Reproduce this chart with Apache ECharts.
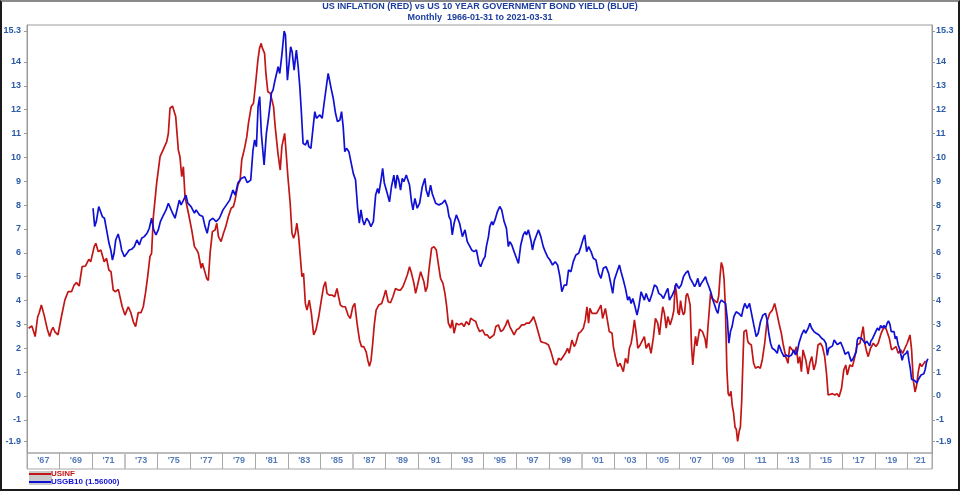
<!DOCTYPE html>
<html><head><meta charset="utf-8">
<script src="https://cdn.jsdelivr.net/npm/echarts@6/dist/echarts.min.js"></script>
<style>
html,body{margin:0;padding:0;background:#fff;}
#c{position:absolute;left:0;top:0;width:960px;height:492px;}
#frame{position:absolute;left:0;top:0;width:956px;height:487px;border:2px solid #1a1a1a;border-top:2px solid #8a8a8a;pointer-events:none;}
</style></head>
<body><div id="c"></div><div id="frame"></div>
<script>
// ---- data (decimal year, value) ----
const usinf = [
[1966.1,2.84],[1966.3,2.93],[1966.5,2.49],[1966.65,3.3],[1966.75,3.49],[1966.88,3.81],[1967.05,3.39],[1967.15,3.32],[1967.25,2.79],[1967.39,2.49],[1967.5,2.75],[1967.6,2.88],[1967.7,2.7],[1967.9,2.56],
[1968.11,3.32],[1968.32,4.02],[1968.52,4.37],[1968.73,4.37],[1968.89,4.65],[1969.03,4.75],[1969.2,4.61],[1969.38,5.42],[1969.59,5.45],[1969.79,5.73],[1969.91,5.63],
[1970.12,6.26],[1970.22,6.4],[1970.37,6.05],[1970.53,6.12],[1970.73,5.63],[1970.88,5.77],[1971.02,5.28],[1971.15,5.21],[1971.29,4.44],[1971.43,4.37],[1971.6,4.47],[1971.7,4.44],[1971.84,3.74],
[1972.01,3.39],[1972.21,3.74],[1972.37,3.49],[1972.52,3.11],[1972.66,2.91],[1972.82,3.49],[1972.99,3.49],[1973.13,3.74],[1973.27,4.33],[1973.4,5.0],[1973.54,5.84],[1973.64,5.98],[1973.75,7.52],[1973.95,8.91],
[1974.16,10.03],[1974.36,10.34],[1974.57,10.66],[1974.67,11.01],[1974.77,12.06],[1974.92,12.15],[1975.04,12.15],[1975.12,11.71],[1975.28,10.31],[1975.38,10.03],[1975.49,9.19],[1975.59,9.61],[1975.69,8.35],[1975.9,7.66],
[1976.1,6.96],[1976.27,6.26],[1976.41,6.12],[1976.51,5.98],[1976.68,5.35],[1976.76,5.56],[1976.88,5.49],[1977.02,4.93],[1977.12,4.84],[1977.23,6.0],[1977.37,6.89],[1977.53,6.96],[1977.64,7.24],[1977.74,6.68],[1977.9,6.47],
[1978.05,6.82],[1978.19,7.1],[1978.35,7.52],[1978.52,7.87],[1978.66,7.94],[1978.76,8.21],[1978.93,8.84],[1979.07,9.05],[1979.17,9.89],[1979.34,10.38],[1979.48,10.87],[1979.58,11.43],[1979.75,12.13],[1979.89,12.27],
[1980.03,13.17],[1980.16,14.08],[1980.26,14.57],[1980.36,14.78],[1980.44,14.57],[1980.57,14.36],[1980.65,13.52],[1980.77,12.75],[1980.92,12.69],[1981.02,12.62],[1981.12,12.13],[1981.22,11.29],[1981.39,10.17],[1981.53,9.47],[1981.63,10.45],[1981.8,11.01],[1981.88,10.31],
[1982.0,9.19],[1982.14,8.08],[1982.25,6.82],[1982.35,6.61],[1982.45,6.82],[1982.55,7.24],[1982.66,6.68],[1982.76,5.84],[1982.86,5.0],[1982.96,5.14],[1983.07,3.88],[1983.17,3.6],[1983.31,4.02],[1983.44,3.46],[1983.58,2.56],[1983.72,2.77],[1983.89,3.32],
[1984.05,4.02],[1984.19,4.58],[1984.3,4.79],[1984.4,4.3],[1984.54,4.23],[1984.7,4.23],[1984.87,4.16],[1985.01,4.51],[1985.11,4.16],[1985.22,3.81],[1985.36,3.74],[1985.52,3.74],[1985.69,3.39],[1985.83,3.25],[1985.98,3.74],
[1986.1,3.88],[1986.24,3.05],[1986.39,2.35],[1986.51,2.07],[1986.65,2.07],[1986.8,1.85],[1986.9,1.5],[1987.0,1.25],[1987.1,1.5],[1987.2,2.2],[1987.3,3.0],[1987.41,3.6],[1987.57,3.81],[1987.75,3.88],[1987.9,4.2],
[1988.0,4.44],[1988.15,3.95],[1988.29,3.91],[1988.44,4.16],[1988.6,4.51],[1988.76,4.44],[1988.91,4.44],[1989.05,4.58],[1989.17,4.79],[1989.32,5.07],[1989.46,5.42],[1989.58,5.14],[1989.73,4.72],[1989.83,4.3],[1989.93,4.58],
[1990.03,4.65],[1990.14,5.21],[1990.24,5.28],[1990.34,4.79],[1990.44,4.37],[1990.55,4.58],[1990.65,5.28],[1990.81,6.19],[1990.96,6.26],[1991.1,6.12],[1991.22,5.56],[1991.36,4.93],[1991.51,4.72],[1991.63,4.3],[1991.74,3.74],[1991.84,3.05],[1991.98,2.84],
[1992.08,3.19],[1992.19,2.63],[1992.33,3.05],[1992.49,2.98],[1992.66,3.05],[1992.8,2.91],[1992.94,3.12],[1993.11,2.98],[1993.21,3.26],[1993.35,3.19],[1993.52,3.12],[1993.62,2.91],[1993.76,2.7],[1993.93,2.77],
[1994.09,2.56],[1994.23,2.56],[1994.38,2.42],[1994.5,2.35],[1994.64,2.56],[1994.75,2.91],[1994.91,2.98],[1995.05,2.7],[1995.2,2.77],[1995.36,2.98],[1995.48,3.19],[1995.61,2.91],[1995.77,2.7],[1995.87,2.56],
[1996.02,2.77],[1996.18,2.84],[1996.34,2.98],[1996.49,2.98],[1996.63,3.05],[1996.8,3.05],[1996.96,3.19],[1997.06,3.33],[1997.2,3.05],[1997.37,2.63],[1997.51,2.28],[1997.66,2.24],[1997.82,2.21],[1997.98,2.14],
[1998.13,1.86],[1998.23,1.93],[1998.33,1.37],[1998.47,1.3],[1998.6,1.58],[1998.74,1.51],[1998.84,1.44],[1999.01,1.79],[1999.15,2.0],[1999.25,1.79],[1999.42,2.35],[1999.56,2.07],[1999.66,2.21],[1999.83,2.63],[1999.97,2.7],
[2000.12,2.84],[2000.24,3.19],[2000.34,3.74],[2000.44,3.05],[2000.52,3.67],[2000.65,3.46],[2000.79,3.46],[2000.93,3.46],[2001.1,3.67],[2001.2,3.81],[2001.3,3.25],[2001.47,3.67],[2001.61,3.11],[2001.71,2.7],[2001.88,2.63],[2001.96,2.07],
[2002.08,1.65],[2002.23,1.23],[2002.37,1.37],[2002.49,1.3],[2002.57,1.02],[2002.7,1.58],[2002.84,1.37],[2002.94,2.0],[2003.05,2.21],[2003.15,2.63],[2003.25,3.19],[2003.35,2.7],[2003.46,2.0],[2003.6,2.14],[2003.72,2.21],[2003.86,2.49],[2003.97,2.0],
[2004.13,2.21],[2004.27,1.79],[2004.42,2.49],[2004.54,3.25],[2004.68,3.05],[2004.79,2.56],[2004.89,3.19],[2004.99,3.74],[2005.09,3.46],[2005.2,2.84],[2005.3,3.33],[2005.44,2.98],[2005.58,3.3],[2005.67,3.6],[2005.75,4.65],[2005.83,4.3],[2005.92,3.5],
[2006.0,3.4],[2006.08,4.0],[2006.17,3.6],[2006.25,3.4],[2006.33,3.5],[2006.42,4.2],[2006.5,4.3],[2006.58,4.1],[2006.67,3.8],[2006.75,2.1],[2006.83,1.3],[2006.92,2.0],[2007.0,2.5],[2007.08,2.1],[2007.25,2.8],[2007.42,2.7],[2007.58,2.4],[2007.67,2.0],[2007.75,2.8],[2007.83,3.5],[2007.92,4.3],
[2008.0,4.1],[2008.17,4.0],[2008.33,3.9],[2008.42,4.2],[2008.5,5.0],[2008.58,5.6],[2008.67,5.4],[2008.75,4.9],[2008.83,3.7],[2008.92,1.1],[2009.0,0.1],[2009.08,0.0],[2009.17,0.2],[2009.25,-0.4],[2009.33,-0.7],[2009.42,-1.3],[2009.5,-1.4],[2009.58,-1.9],[2009.67,-1.5],[2009.75,-1.3],[2009.83,-0.2],[2009.92,1.8],[2009.97,2.7],
[2010.11,2.77],[2010.2,2.3],[2010.27,2.21],[2010.42,2.14],[2010.56,1.37],[2010.68,1.16],[2010.83,1.23],[2010.97,1.16],[2011.09,1.51],[2011.24,2.21],[2011.38,3.11],[2011.54,3.46],[2011.71,3.6],[2011.85,3.88],[2011.99,3.46],
[2012.12,3.04],[2012.26,2.63],[2012.36,2.21],[2012.53,1.65],[2012.67,1.37],[2012.77,2.07],[2012.94,1.93],[2013.08,1.79],[2013.18,2.07],[2013.29,1.37],[2013.39,1.65],[2013.49,1.02],[2013.59,1.93],[2013.76,1.51],[2013.9,0.92],
[2014.0,1.37],[2014.13,1.65],[2014.25,1.09],[2014.37,1.37],[2014.51,2.14],[2014.66,2.21],[2014.78,2.07],[2014.92,1.65],[2015.03,0.95],[2015.13,0.04],[2015.23,-0.03],[2015.4,0.1],[2015.54,0.04],[2015.68,0.1],[2015.8,-0.03],[2015.95,0.31],
[2016.09,1.09],[2016.21,1.3],[2016.3,0.88],[2016.46,1.3],[2016.62,1.23],[2016.77,1.65],[2016.91,2.14],[2017.08,2.21],[2017.18,2.56],[2017.28,2.91],[2017.38,2.21],[2017.49,1.86],[2017.59,1.65],[2017.73,2.0],[2017.9,2.21],
[2018.06,2.07],[2018.2,2.21],[2018.35,2.56],[2018.47,2.77],[2018.61,2.91],[2018.71,2.77],[2018.88,2.42],[2019.02,1.93],[2019.12,1.86],[2019.29,2.07],[2019.43,1.79],[2019.58,1.93],[2019.7,1.79],[2019.84,2.0],[2019.98,2.21],
[2020.15,2.56],[2020.25,1.93],[2020.35,0.67],[2020.46,0.17],[2020.56,0.45],[2020.66,1.02],[2020.76,1.37],[2020.87,1.23],[2020.97,1.3],[2021.07,1.44],[2021.17,1.44]
];
const usgb10 = [
[1970.05,7.87],[1970.15,7.1],[1970.25,7.31],[1970.4,7.94],[1970.52,7.87],[1970.62,7.52],[1970.75,7.45],[1970.88,6.96],[1971.03,6.4],[1971.14,6.12],[1971.24,5.7],[1971.34,5.98],[1971.44,6.54],[1971.59,6.79],[1971.71,6.47],[1971.8,6.12],
[1971.97,5.84],[1972.13,5.98],[1972.27,6.12],[1972.41,6.15],[1972.58,6.26],[1972.74,6.54],[1972.89,6.33],[1973.03,6.61],[1973.19,6.68],[1973.36,6.82],[1973.5,7.03],[1973.64,7.45],[1973.77,6.96],[1973.91,6.75],
[1974.05,6.96],[1974.18,7.31],[1974.32,7.52],[1974.42,7.59],[1974.53,7.8],[1974.67,8.08],[1974.79,8.01],[1974.93,7.66],[1975.08,7.45],[1975.2,7.8],[1975.34,8.21],[1975.45,8.01],[1975.55,8.15],[1975.75,8.42],[1975.86,8.08],
[1976.06,7.94],[1976.27,7.66],[1976.37,7.8],[1976.58,7.59],[1976.78,7.52],[1976.92,7.1],[1977.05,6.82],[1977.2,7.35],[1977.4,7.45],[1977.6,7.31],[1977.8,7.45],[1978.02,7.8],[1978.22,8.0],[1978.43,8.21],[1978.63,8.63],[1978.77,8.42],[1978.94,8.94],
[1979.14,9.12],[1979.35,9.19],[1979.51,8.94],[1979.72,9.05],[1979.86,10.31],[1979.96,10.73],[1980.07,10.45],[1980.17,12.13],[1980.27,12.55],[1980.37,11.01],[1980.54,9.68],[1980.68,11.01],[1980.82,11.71],[1980.99,12.69],
[1981.09,12.83],[1981.19,13.17],[1981.29,13.1],[1981.4,13.8],[1981.5,13.52],[1981.64,14.36],[1981.77,15.3],[1981.85,15.13],[1981.97,13.24],[1982.05,13.8],[1982.17,14.64],[1982.26,14.43],[1982.38,13.66],[1982.52,14.5],[1982.63,13.8],[1982.73,12.96],[1982.83,11.85],[1982.93,10.59],
[1983.08,10.52],[1983.2,10.73],[1983.28,10.45],[1983.41,10.38],[1983.55,11.29],[1983.65,11.92],[1983.75,11.64],[1983.86,11.57],[1983.96,11.78],[1984.1,11.64],[1984.22,12.27],[1984.37,13.03],[1984.47,13.52],[1984.57,13.45],[1984.67,12.83],[1984.78,12.48],[1984.92,11.85],
[1985.04,11.5],[1985.19,11.57],[1985.29,11.92],[1985.39,11.29],[1985.49,10.24],[1985.6,10.38],[1985.74,10.24],[1985.86,10.24],[1986.01,9.33],[1986.15,9.05],[1986.27,7.93],[1986.38,7.24],[1986.48,7.8],[1986.58,7.38],[1986.68,7.17],[1986.83,7.45],[1986.97,7.31],
[1987.09,7.1],[1987.24,7.31],[1987.38,8.42],[1987.5,8.7],[1987.58,8.49],[1987.71,9.05],[1987.81,9.54],[1987.91,8.94],[1988.0,8.9],[1988.09,8.5],[1988.23,8.14],[1988.35,8.77],[1988.5,9.26],[1988.6,8.7],[1988.7,9.26],[1988.8,9.05],[1988.91,8.63],
[1989.01,9.12],[1989.11,8.98],[1989.26,9.26],[1989.38,9.19],[1989.46,8.84],[1989.58,8.14],[1989.67,7.8],[1989.79,8.28],[1989.93,7.87],[1990.08,8.08],[1990.24,8.77],[1990.4,9.12],[1990.48,8.63],[1990.61,8.35],[1990.75,8.84],[1990.85,8.49],
[1991.06,8.08],[1991.26,8.01],[1991.47,8.08],[1991.63,8.21],[1991.78,7.94],[1991.88,7.52],[1991.98,7.38],[1992.08,6.75],[1992.19,7.24],[1992.33,7.59],[1992.45,7.52],[1992.53,7.24],[1992.7,6.68],[1992.86,6.96],
[1993.0,6.47],[1993.11,6.4],[1993.27,6.12],[1993.42,6.05],[1993.56,6.12],[1993.72,5.56],[1993.82,5.42],[1993.97,5.7],[1994.09,5.84],[1994.17,6.26],[1994.3,6.68],[1994.38,7.1],[1994.5,7.31],[1994.58,7.17],[1994.7,7.38],[1994.85,7.73],[1994.99,7.94],
[1995.11,7.8],[1995.26,7.31],[1995.4,7.03],[1995.52,6.26],[1995.61,6.47],[1995.73,6.33],[1995.87,6.05],[1996.02,5.77],[1996.14,5.56],[1996.28,6.33],[1996.43,6.75],[1996.55,6.89],[1996.63,6.75],[1996.75,6.96],[1996.9,6.54],
[1997.0,6.12],[1997.1,6.47],[1997.25,6.75],[1997.37,6.96],[1997.51,6.68],[1997.66,6.26],[1997.78,6.05],[1997.92,5.84],[1998.07,5.7],[1998.23,5.49],[1998.39,5.63],[1998.54,5.49],[1998.68,5.0],[1998.8,4.37],[1998.95,4.65],
[1999.09,4.65],[1999.21,5.28],[1999.36,5.21],[1999.5,5.63],[1999.66,5.91],[1999.83,5.98],[1999.97,6.26],[2000.12,6.61],[2000.2,6.75],[2000.32,6.05],[2000.44,6.26],[2000.59,6.05],[2000.73,5.77],[2000.89,5.7],
[2001.06,5.14],[2001.2,4.93],[2001.34,5.35],[2001.51,5.42],[2001.67,5.14],[2001.82,4.65],[2001.92,4.3],[2002.02,4.86],[2002.12,5.07],[2002.23,5.0],[2002.33,5.49],[2002.43,5.21],[2002.57,4.86],[2002.7,4.51],[2002.84,4.02],[2002.94,4.16],
[2003.05,3.88],[2003.15,4.09],[2003.29,3.74],[2003.41,3.39],[2003.52,3.74],[2003.66,4.37],[2003.76,4.44],[2003.86,4.02],[2003.97,4.3],[2004.07,4.09],[2004.17,3.95],[2004.34,4.3],[2004.48,4.65],[2004.62,4.58],[2004.75,4.3],[2004.89,4.23],
[2005.03,4.09],[2005.2,4.37],[2005.3,4.51],[2005.4,4.02],[2005.57,4.23],[2005.71,4.44],[2005.81,4.72],[2005.97,4.51],[2006.12,4.65],[2006.26,5.0],[2006.38,5.14],[2006.53,5.25],[2006.67,4.93],[2006.79,4.79],[2006.94,4.58],
[2007.04,4.72],[2007.14,4.93],[2007.25,4.58],[2007.35,4.72],[2007.49,4.86],[2007.61,5.0],[2007.7,4.79],[2007.82,4.58],[2007.96,4.3],[2008.06,4.02],[2008.17,3.81],[2008.27,3.6],[2008.37,3.46],[2008.47,3.88],[2008.58,4.02],[2008.68,3.95],[2008.84,3.88],[2008.95,3.2],
[2009.04,2.21],[2009.14,2.7],[2009.24,2.91],[2009.35,3.33],[2009.49,3.53],[2009.65,3.46],[2009.82,3.33],[2009.9,3.6],[2010.02,3.88],[2010.16,3.67],[2010.31,3.88],[2010.43,3.46],[2010.57,2.98],[2010.72,2.49],[2010.84,2.63],
[2010.98,3.11],[2011.13,3.39],[2011.29,3.46],[2011.39,3.18],[2011.49,2.63],[2011.6,2.21],[2011.7,2.0],[2011.86,1.93],[2012.01,1.79],[2012.11,2.14],[2012.27,1.86],[2012.42,1.65],[2012.56,1.72],[2012.72,1.65],[2012.89,1.72],
[2013.03,1.93],[2013.13,1.72],[2013.24,1.86],[2013.34,2.21],[2013.5,2.56],[2013.65,2.77],[2013.75,2.63],[2013.91,2.84],[2014.01,3.05],[2014.12,2.84],[2014.26,2.7],[2014.4,2.63],[2014.57,2.56],[2014.73,2.42],[2014.87,2.35],
[2015.0,2.2],[2015.08,1.7],[2015.17,2.0],[2015.27,1.95],[2015.4,2.1],[2015.5,2.35],[2015.6,2.3],[2015.7,2.15],[2015.8,2.1],[2015.9,2.25],[2016.0,2.25],[2016.08,1.95],[2016.17,1.75],[2016.27,1.8],[2016.37,1.85],[2016.45,1.65],[2016.55,1.45],[2016.65,1.55],[2016.75,1.6],[2016.85,1.85],[2016.92,2.35],
[2017.0,2.45],[2017.1,2.45],[2017.2,2.4],[2017.3,2.3],[2017.4,2.2],[2017.5,2.3],[2017.6,2.3],[2017.68,2.1],[2017.75,2.3],[2017.85,2.4],[2017.95,2.4],[2018.05,2.7],[2018.15,2.85],[2018.25,2.75],[2018.35,2.95],[2018.45,2.85],[2018.55,2.95],[2018.65,2.85],[2018.75,3.05],[2018.83,3.15],[2018.92,3.0],
[2019.0,2.7],[2019.08,2.65],[2019.17,2.7],[2019.25,2.4],[2019.33,2.5],[2019.42,2.15],[2019.5,2.0],[2019.58,2.0],[2019.67,1.5],[2019.75,1.7],[2019.83,1.75],[2019.92,1.8],[2020.0,1.9],[2020.08,1.5],[2020.17,1.15],[2020.25,0.7],[2020.33,0.65],[2020.42,0.65],[2020.5,0.66],[2020.58,0.55],[2020.67,0.7],[2020.75,0.69],[2020.83,0.88],[2020.92,0.84],
[2021.0,0.93],[2021.08,1.11],[2021.17,1.44],[2021.25,1.56]
];
const yTicks = [-1.9,-1,0,1,2,3,4,5,6,7,8,9,10,11,12,13,14,15.3];
const yearLabels = ["'67","'69","'71","'73","'75","'77","'79","'81","'83","'85","'87","'89","'91","'93","'95","'97","'99","'01","'03","'05","'07","'09","'11","'13","'15","'17","'19","'21"];
const cellStarts = [1966,1968,1970,1972,1974,1976,1978,1980,1982,1984,1986,1988,1990,1992,1994,1996,1998,2000,2002,2004,2006,2008,2010,2012,2014,2016,2018,2020];
const majorDividers = [1972,1986,2000,2014];
const xMin = 1966, xMax = 2021.5, yMin = -2.39, yMax = 15.55;

const FF = "'Liberation Sans', Arial, sans-serif";
const RED = '#c21616', BLUE = '#1010d4', LBL = '#2a5aa8';

const cellData = cellStarts.map((s,i)=>[(s+Math.min(s+2,xMax))/2, 0.5, yearLabels[i]]);
const lastYield = usgb10[usgb10.length-1][1];

function yAx(pos){
  return {type:'value', gridIndex:0, position:pos, min:yMin, max:yMax,
    axisLine:{show:true, lineStyle:{color:'#9a9a9a', width:1}},
    axisTick:{show:true, length:3, customValues:yTicks, lineStyle:{color:'#9a9a9a'}},
    axisLabel:{customValues:yTicks, margin: pos==='left'?6:4, color:LBL, fontSize:9, fontWeight:'bold', fontFamily:FF, formatter:v=>String(v)},
    splitLine:{show:false}};
}

const chart = echarts.init(document.getElementById('c'), null, {renderer:'canvas'});
chart.setOption({
  animation:false,
  backgroundColor:'#fff',
  title:{text:'US INFLATION (RED) vs US 10 YEAR GOVERNMENT BOND YIELD (BLUE)\nMonthly  1966-01-31 to 2021-03-31',
    left:'center', top:1, padding:0, textStyle:{fontSize:9, fontWeight:'bold', color:'#1b3d9e', fontFamily:FF, lineHeight:11}},
  grid:[
    {left:27, right:28, top:25, bottom:39, show:true, borderColor:'#9a9a9a', borderWidth:1, backgroundColor:'#fff'},
    {left:27, right:28, top:453, height:16, show:true, borderColor:'#a8a8a8', borderWidth:1}
  ],
  xAxis:[
    {type:'value', gridIndex:0, min:xMin, max:xMax, show:false},
    {type:'value', gridIndex:1, min:xMin, max:xMax, interval:2, axisLine:{show:false}, axisTick:{show:false}, axisLabel:{show:false},
      splitLine:{show:true, lineStyle:{color:'#a8a8a8', width:1}}}
  ],
  yAxis:[ yAx('left'), yAx('right'),
    {type:'value', gridIndex:1, min:0, max:1, show:false}
  ],
  legend:{orient:'vertical', left:29, top:470, itemWidth:22, itemHeight:2, itemGap:0, icon:'rect', padding:0,
    textStyle:{fontSize:8, fontWeight:'bold', fontFamily:FF, lineHeight:7, padding:[0,0,0,-5]},
    data:[{name:'USINF', textStyle:{color:RED}}, {name:'USGB10', textStyle:{color:BLUE}}],
    formatter: n => n==='USGB10' ? 'USGB10 (' + lastYield.toFixed(5) + ')' : n},
  graphic:[{type:'rect', left:29, top:471, shape:{width:23, height:14}, style:{fill:'#c9c9c9'}, z:-1}],
  series:[
    {name:'USINF', type:'line', xAxisIndex:0, yAxisIndex:0, data:usinf, showSymbol:false, symbol:'none',
      lineStyle:{color:RED, width:1.7}, itemStyle:{color:RED}, z:2},
    {name:'USGB10', type:'line', xAxisIndex:0, yAxisIndex:0, data:usgb10, showSymbol:false, symbol:'none',
      lineStyle:{color:BLUE, width:1.7}, itemStyle:{color:BLUE}, z:3},
    {name:'years', type:'scatter', xAxisIndex:1, yAxisIndex:2, data:cellData, symbolSize:1, itemStyle:{color:'rgba(0,0,0,0)'},
      label:{show:true, position:'inside', formatter:p=>p.data[2], color:LBL, fontSize:9, fontWeight:'bold', fontFamily:FF},
      markLine:{silent:true, symbol:'none', label:{show:false}, lineStyle:{color:'#c4c4c4', width:2, type:'solid'},
        data: majorDividers.map(v=>({xAxis:v}))}, tooltip:{show:false}}
  ]
});
</script></body></html>
